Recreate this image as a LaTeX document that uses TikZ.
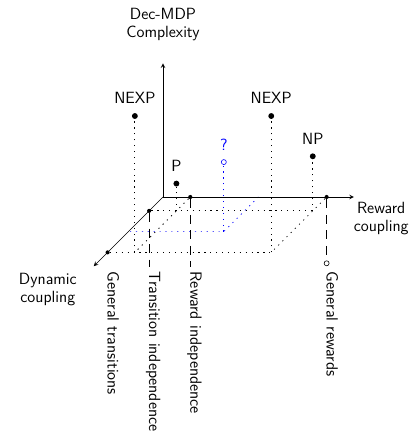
\documentclass[tikz,border=0pt]{standalone}
\usepackage{tikz}
\usetikzlibrary{arrows}
\tikzset{
  axis/.style={-stealth, thin},
  pt/.style={circle, fill=black, inner sep=0pt, minimum size=4pt},
  tick/.style={circle, fill=black, inner sep=0pt, minimum size=2.8pt},
  hollow/.style={circle, draw, fill=white, inner sep=0pt, minimum size=3.4pt},
  grid/.style={line width=0.5pt, dash pattern=on 0.8pt off 3.2pt},
  lbl/.style={dash pattern=on 6pt off 4.5pt},
  axislabel/.style={align=center},
  level/.style={rotate=-90, anchor=base west},
}

\begin{document}
\begin{tikzpicture}[x={(0.65cm,0cm)},y={(0cm,0.65cm)},z={(-0.33cm,-0.33cm)},
  font=\sffamily\fontsize{11}{12.2}\selectfont]
  \useasboundingbox (-3.884cm,-5.91cm) rectangle (5.981cm,4.695cm);

  \coordinate (o) at (0,0,0);
  \coordinate (rend) at (7,0,0);
  \coordinate (cend) at (0,4.9,0);
  \coordinate (dend) at (0,0,5);
  \coordinate (base) at (0,-2.55,0);

  % corners in the plane
  \coordinate (ri-ti) at (1,0,1);
  \coordinate (ri-gt) at (1,0,4);
  \coordinate (gr-ti) at (6,0,1);
  \coordinate (gr-gt) at (6,0,4);
  \coordinate (qr) at (3.5,0,0);
  \coordinate (qd) at (0,0,2.5);
  \coordinate (qbase) at (3.5,0,2.5);

  % ticks on the axes
  \node[tick] (ri) at (1,0,0) {};
  \node[tick] (gr) at (6,0,0) {};
  \node[tick] (ti) at (0,0,1) {};
  \node[tick] (gt) at (0,0,4) {};

  % classes
  \node[pt, label={[label distance=2.5pt]above:NEXP}] (nexp1) at (1,5,4) {};
  \node[pt, label={[label distance=2.5pt]above:NEXP}] (nexp2) at (6,5,4) {};
  \node[pt, label={[label distance=2.5pt]above:P}] (p) at (1,1,1) {};
  \node[pt, label={[label distance=2.5pt]above:NP}] (np) at (6,2,1) {};
  \node[hollow, draw=blue, label={[label distance=2.5pt, blue]above:?}] (q) at (3.5,2.55,2.5) {};

  % grid
  \draw[grid] (ti) -- (gr-ti);
  \draw[grid] (gt) -- (gr-gt);
  \draw[grid] (ri) -- (ri-gt);
  \draw[grid] (gr) -- (gr-gt);
  \draw[grid] (ri-gt) -- (nexp1);
  \draw[grid] (gr-gt) -- (nexp2);
  \draw[grid] (ri-ti) -- (p);
  \draw[grid] (gr-ti) -- (np);
  \draw[grid, blue] (qr) -- (qbase) -- (qd);
  \draw[grid, blue] (qbase) -- (q);

  % axes
  \draw[axis] (o) -- (rend);
  \draw[axis] (o) -- (cend);
  \draw[axis] (o) -- (dend);
  \node[axislabel] (clab) at (0,6.34,0) {Dec-MDP\\Complexity};
  \node[axislabel] (rlab) at (8,-0.8,0) {Reward\\coupling};
  \node[axislabel] (dlab) at (-0.82,0,6.7) {Dynamic\\coupling};

  % levels
  \node[level] (gtlab) at (gt |- base) {General transitions};
  \node[level] (tilab) at (ti |- base) {Transition independence};
  \node[level] (rilab) at (ri |- base) {Reward independence};
  \node[level] (grlab) at (gr |- base) {General rewards};
  \node[hollow] (grmark) at (6,-2.43,0) {};
  \draw[lbl] (ti) -- (tilab.base west);
  \draw[lbl] (ri) -- (rilab.base west);
  \draw[lbl] (gr) -- (grmark);
\end{tikzpicture}
\end{document}
